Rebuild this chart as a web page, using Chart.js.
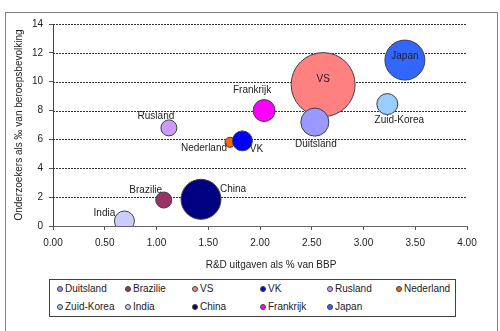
<!DOCTYPE html>
<html><head><meta charset="utf-8">
<script src="https://cdn.jsdelivr.net/npm/chart.js@4/dist/chart.umd.min.js"></script>
<style>
html,body{margin:0;padding:0;background:#fff;}
#wrap{position:relative;width:500px;height:331px;overflow:hidden;font-family:"Liberation Sans",Arial,sans-serif;}
#frame{position:absolute;left:5px;top:12px;width:493px;height:340px;border:1px solid #808080;box-sizing:border-box;}
canvas{position:absolute;left:0;top:0;}
#legend{position:absolute;left:49px;top:279px;width:407px;height:38px;border:1px solid #404040;box-sizing:border-box;background:#fff;}
.li{position:absolute;font-size:10px;color:#222;line-height:12px;white-space:nowrap;}
.dot{display:inline-block;box-sizing:border-box;width:6px;height:6px;border-radius:50%;border:1px solid #404040;margin-right:2px;vertical-align:0px;}
</style></head>
<body><div id="wrap"><div id="frame"></div><canvas id="c" width="500" height="331"></canvas><div id="legend"></div></div>
<script>
// ---- data ----
const countries = ['Duitsland','Brazilie','VS','VK','Rusland','Nederland','Zuid-Korea','India','China','Frankrijk','Japan'];
const rdPercentGDP = [2.53, 1.07, 2.61, 1.83, 1.12, 1.71, 3.23, 0.69, 1.43, 2.04, 3.40];
const researchersPerMille = [7.2, 1.8, 9.8, 5.9, 6.8, 5.8, 8.45, 0.35, 1.85, 8.0, 11.5];
const bubbleSize = [77, 25, 400, 39, 25, 10, 43, 39, 156, 47, 156];
const xTicks = [0, 0.5, 1, 1.5, 2, 2.5, 3, 3.5, 4];
const yTicks = [0, 2, 4, 6, 8, 10, 12, 14];

// ---- styles ----
const colors = ['#9999FF','#993366','#FF8080','#0000FF','#CC99FF','#FF6600','#99CCFF','#CCCCFF','#000080','#FF00FF','#3366FF'];
const labelOffset = {
  'Duitsland':[1,22],'Brazilie':[-18,-10],'VS':[0,-5],'VK':[14,8],'Rusland':[-13,-12],
  'Nederland':[-26,6],'Zuid-Korea':[12,16],'India':[-20,-8],'China':[32,-10],'Frankrijk':[-12,-20],'Japan':[0,-4]
};
const radiusScale = 1.6;
const FONT = '"Liberation Sans", Arial, sans-serif';
const TXT = '#222';

const datasets = countries.map((name, i) => ({
  label: name,
  data: [{x: rdPercentGDP[i], y: researchersPerMille[i], r: radiusScale * Math.sqrt(bubbleSize[i])}],
  backgroundColor: colors[i],
  borderColor: '#404040',
  borderWidth: 1,
  hoverBorderWidth: 1
}));

const gridPlugin = {
  id: 'dottedGrid',
  beforeDatasetsDraw(chart) {
    const {ctx, chartArea, scales: {y}} = chart;
    ctx.save();
    ctx.strokeStyle = '#333';
    ctx.lineWidth = 1;
    ctx.setLineDash([2, 1]);
    yTicks.forEach(v => {
      if (v === 0) return;
      const py = Math.round(y.getPixelForValue(v)) + 0.5;
      ctx.beginPath();
      ctx.moveTo(chartArea.left, py);
      ctx.lineTo(chartArea.right, py);
      ctx.stroke();
    });
    ctx.restore();
  }
};

const labelPlugin = {
  id: 'bubbleLabels',
  afterDatasetsDraw(chart) {
    const {ctx} = chart;
    ctx.save();
    ctx.font = '10px ' + FONT;
    ctx.fillStyle = TXT;
    ctx.textAlign = 'center';
    ctx.textBaseline = 'middle';
    chart.data.datasets.forEach((ds, i) => {
      const el = chart.getDatasetMeta(i).data[0];
      const off = labelOffset[ds.label] || [0, 0];
      ctx.fillText(ds.label, el.x + off[0], el.y + off[1]);
    });
    ctx.restore();
  },
  afterDraw(chart) {
    const {ctx, chartArea} = chart;
    ctx.save();
    ctx.font = '10px ' + FONT;
    ctx.fillStyle = TXT;
    ctx.textAlign = 'center';
    ctx.textBaseline = 'middle';
    ctx.fillText('R&D uitgaven als % van BBP', (chartArea.left + chartArea.right) / 2 + 11, 265);
    ctx.restore();
  }
};

new Chart(document.getElementById('c'), {
  type: 'bubble',
  data: {datasets},
  options: {
    responsive: false,
    devicePixelRatio: 1,
    animation: false,
    events: [],
    layout: {autoPadding: false, padding: {left: 0, right: 33, top: 24, bottom: 0}},
    plugins: {legend: {display: false}, tooltip: {enabled: false}},
    scales: {
      x: {
        type: 'linear', min: 0, max: 4,
        afterBuildTicks: s => { s.ticks = xTicks.map(v => ({value: v})); },
        ticks: {callback: v => Number(v).toFixed(2), font: {size: 10, family: FONT}, color: TXT, padding: 7, maxRotation: 0, autoSkip: false},
        grid: {drawOnChartArea: false, tickLength: 4, color: '#555'},
        border: {color: '#666', width: 1},
        afterFit: s => { s.height = 105; }
      },
      y: {
        type: 'linear', min: 0, max: 14,
        afterBuildTicks: s => { s.ticks = yTicks.map(v => ({value: v})); },
        ticks: {font: {size: 10, family: FONT}, color: TXT, padding: 6},
        grid: {drawOnChartArea: false, tickLength: 4, color: '#555'},
        border: {color: '#444', width: 1},
        title: {display: true, text: 'Onderzoekers als ‰ van beroepsbevolking', font: {size: 10, family: FONT}, color: TXT, padding: {top: 13, bottom: 0}},
        afterFit: s => { s.width = 53; }
      }
    }
  },
  plugins: [gridPlugin, labelPlugin]
});

// legend (HTML, built from the arrays)
const legendCols = [10, 78, 145, 213, 280, 349];
const legendRows = [3, 21];
const lg = document.getElementById('legend');
countries.forEach((name, i) => {
  const d = document.createElement('div');
  d.className = 'li';
  d.style.left = legendCols[i % 6] - 3 + 'px';
  d.style.top = legendRows[Math.floor(i / 6)] + 'px';
  d.innerHTML = '<span class="dot" style="background:' + colors[i] + '"></span>' + name;
  lg.appendChild(d);
});
</script></body></html>
